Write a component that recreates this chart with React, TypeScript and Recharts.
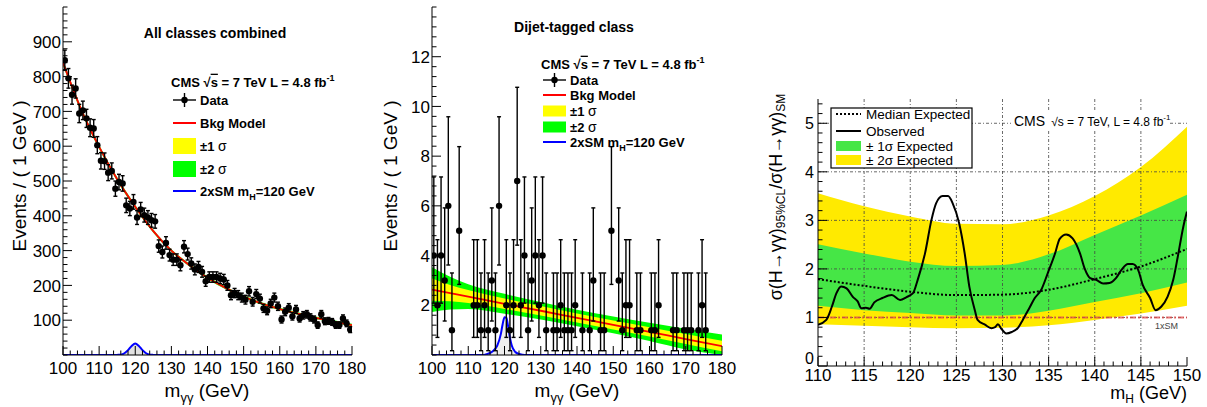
import React from "react";
import {
  ComposedChart,
  Line,
  Area,
  Scatter,
  ErrorBar,
  XAxis,
  YAxis,
  ReferenceLine,
} from "recharts";

const FONT = '"Liberation Sans", Arial, Helvetica, sans-serif';

// ---------- all classes combined (1 GeV bins, 100-180 GeV) ----------
const combinedFirstBin = 100.5;
const combinedCounts = [
  847, 795, 748, 766, 694, 703, 680, 653, 651, 603,
  558, 557, 524, 529, 478, 497, 493, 430, 421, 440,
  395, 418, 402, 395, 387, 384, 313, 296, 322, 287,
  274, 274, 258, 311, 290, 263, 246, 253, 239, 212,
  224, 224, 224, 220, 217, 200, 172, 178, 172, 165,
  159, 183, 153, 175, 162, 134, 127, 148, 165, 140,
  102, 124, 136, 111, 131, 105, 114, 117, 108, 102,
  86, 117, 97, 98, 95, 86, 86, 105, 91, 73,
];
const combinedBkgMass = [100, 105, 110, 115, 120, 125, 130, 135, 140, 145, 150, 155, 160, 165, 170, 175, 180];
const combinedBkg = [840, 706, 598, 505, 426, 356, 300, 258, 222, 193, 168, 148, 132, 119, 107, 96, 86];
const combinedBand1 = [4, 3.5, 3, 3, 2.5, 2.5, 2, 2, 2, 2, 2, 2, 2, 2, 2, 2, 2];
const combinedBand2 = [8, 7, 6, 5.5, 5, 4.5, 4, 4, 4, 4, 3.5, 3.5, 3.5, 3.5, 3.5, 3.5, 4];
const combinedSigMass = [100, 114, 115, 116, 117, 118, 119, 120, 121, 122, 123, 124, 125, 126, 180];
const combinedSig = [0, 0, 0.3, 1, 5, 14, 26, 33, 26, 14, 5, 1, 0.3, 0, 0];

// ---------- dijet-tagged class ----------
const dijetMass = [
  100.5, 101.5, 102.5, 103.5, 104.5, 105.5, 107.5, 111.5, 112.5, 113.5,
  114.5, 115.5, 116.5, 117.5, 118.5, 120.5, 121.5, 122.5, 123.5, 124.5,
  125.5, 126.5, 127.5, 128.5, 129.5, 130.5, 131.5, 133.5, 134.5, 135.5,
  136.5, 137.5, 138.5, 139.5, 141.5, 143.5, 144.5, 146.5, 147.5, 149.5,
  151.5, 152.5, 153.5, 154.5, 156.5, 157.5, 160.5, 161.5, 162.5, 166.5,
  167.5, 169.5, 170.5, 171.5, 173.5, 174.5, 175.5,
];
const dijetCounts = [
  4, 2, 4, 3, 6, 1, 5, 2, 2, 1,
  2, 1, 3, 1, 6, 2, 1, 2, 7, 2,
  4, 1, 3, 4, 2, 4, 1, 1, 1, 2,
  1, 1, 1, 2, 1, 1, 3, 1, 1, 5,
  3, 1, 2, 2, 1, 1, 1, 1, 2, 1,
  1, 1, 1, 1, 1, 2, 1,
];
// 68% Poisson intervals indexed by observed count
const poissonLo = [0, 0.173, 0.708, 1.367, 2.086, 2.84, 3.62, 4.419];
const poissonHi = [1.841, 3.3, 4.638, 5.918, 7.163, 8.382, 9.584, 10.77];
const dijetBkgMass = [100, 105, 110, 120, 130, 140, 150, 160, 170, 180];
const dijetBkg = [2.63, 2.49, 2.35, 2.06, 1.78, 1.49, 1.21, 0.93, 0.64, 0.36];
const dijetBand1 = [0.45, 0.33, 0.26, 0.21, 0.19, 0.18, 0.18, 0.19, 0.2, 0.21];
const dijetBand2 = [0.9, 0.66, 0.5, 0.4, 0.35, 0.33, 0.34, 0.37, 0.42, 0.46];
const dijetSigMass = [100, 114, 115, 116, 117, 118, 119, 119.5, 120, 120.5, 121, 121.5, 122, 123, 124, 125, 126, 180];
const dijetSig = [0, 0, 0.03, 0.08, 0.18, 0.38, 0.85, 1.25, 1.52, 1.5, 1.15, 0.7, 0.38, 0.12, 0.04, 0.01, 0, 0];

// ---------- 95% CL limit ----------
const limitMass = [110, 115, 120, 125, 130, 135, 140, 145, 150];
const limitMedian = [1.79, 1.65, 1.53, 1.46, 1.47, 1.57, 1.79, 2.05, 2.41];
const limit1Lo = [1.24, 1.15, 1.09, 1.04, 1.04, 1.14, 1.32, 1.5, 1.72];
const limit1Hi = [2.51, 2.32, 2.15, 2.06, 2.08, 2.3, 2.7, 3.1, 3.53];
const limit2Lo = [0.86, 0.83, 0.8, 0.78, 0.79, 0.84, 0.95, 1.08, 1.24];
const limit2Hi = [3.56, 3.29, 3.08, 2.93, 2.92, 3.1, 3.5, 4.1, 4.93];
const obsMass = [
  110, 110.9, 111.5, 112, 112.5, 113.1, 113.8, 114.3, 114.7, 115.2,
  115.6, 116.1, 117, 118, 118.9, 119.6, 120.3, 120.8, 121.6, 122.3,
  122.8, 123.5, 124.1, 124.6, 125.3, 125.9, 126.4, 127, 127.3, 128.1,
  128.8, 129.2, 129.5, 129.9, 130.4, 131, 131.7, 132.2, 132.9, 133.5,
  134.2, 134.9, 135.7, 136.2, 136.9, 137.6, 138.4, 138.9, 139.5, 140.2,
  140.9, 141.6, 142.3, 142.9, 143.6, 144.1, 144.7, 145.2, 146, 146.6,
  147.2, 147.9, 148.5, 149, 149.6, 150,
];
const obsLimit = [
  0.85, 0.95, 1.22, 1.5, 1.64, 1.6, 1.42, 1.33, 1.19, 1.2,
  1.18, 1.31, 1.4, 1.46, 1.36, 1.42, 1.5, 1.77, 2.32, 3.01,
  3.35, 3.5, 3.5, 3.35, 2.94, 2.32, 1.64, 1.15, 0.95, 0.85,
  0.78, 0.8, 0.86, 0.76, 0.67, 0.7, 0.79, 0.95, 1.19, 1.4,
  1.57, 1.91, 2.32, 2.62, 2.71, 2.63, 2.32, 2.01, 1.81, 1.77,
  1.7, 1.71, 1.81, 1.98, 2.1, 2.1, 1.98, 1.67, 1.4, 1.15,
  1.22, 1.43, 1.77, 2.25, 2.87, 3.18,
];

// ---------- axis ticks ----------
const massTicks = [100, 110, 120, 130, 140, 150, 160, 170, 180];
const combinedYTicks = [100, 200, 300, 400, 500, 600, 700, 800, 900];
const dijetYTicks = [2, 4, 6, 8, 10, 12];
const limitXTicks = [110, 115, 120, 125, 130, 135, 140, 145, 150];
const limitYTicks = [0, 1, 2, 3, 4, 5];
const limitGridX = [115, 120, 125, 130, 135, 140, 145];
const limitGridY = [1, 2, 3, 4, 5];

const steps = (a: number, b: number, s: number) => {
  const out: number[] = [];
  for (let v = a; v <= b + 1e-9; v += s) out.push(Math.round(v * 1000) / 1000);
  return out;
};

// ---------- tables ----------
const combinedPoints = combinedCounts.map((n, i) => ({
  x: combinedFirstBin + i,
  y: n,
  err: Math.sqrt(n),
}));
const combinedBkgRows = combinedBkgMass.map((x, i) => ({
  x,
  bkg: combinedBkg[i],
  s1: [combinedBkg[i] - combinedBand1[i], combinedBkg[i] + combinedBand1[i]],
  s2: [combinedBkg[i] - combinedBand2[i], combinedBkg[i] + combinedBand2[i]],
}));
const combinedSigRows = combinedSigMass.map((x, i) => ({ x, sig: combinedSig[i] }));

const dijetPoints = dijetMass.map((x, i) => {
  const n = dijetCounts[i];
  return { x, y: n, err: [n - poissonLo[n], poissonHi[n] - n] };
});
const dijetBkgRows = dijetBkgMass.map((x, i) => ({
  x,
  bkg: dijetBkg[i],
  s1: [dijetBkg[i] - dijetBand1[i], dijetBkg[i] + dijetBand1[i]],
  s2: [Math.max(0, dijetBkg[i] - dijetBand2[i]), dijetBkg[i] + dijetBand2[i]],
}));
const dijetSigRows = dijetSigMass.map((x, i) => ({ x, sig: dijetSig[i] }));

const limitRows = limitMass.map((x, i) => ({
  x,
  median: limitMedian[i],
  s1: [limit1Lo[i], limit1Hi[i]],
  s2: [limit2Lo[i], limit2Hi[i]],
}));
const obsRows = obsMass.map((x, i) => ({ x, obs: obsLimit[i] }));

// ---------- ROOT-style frame: ticks drawn inward on all four sides ----------
type Side = "left" | "right" | "top" | "bottom";
type TickOpts = {
  side: Side;
  majors: number[];
  major: number;
  minor: number;
  label?: boolean;
  fontSize?: number;
  gap?: number;
  zeroLift?: number; // raises the label sitting in the frame corner
};
const isIn = (v: number, list: number[]) => list.some((m) => Math.abs(m - v) < 1e-6);

function frameTick(o: TickOpts) {
  return (p: any) => {
    const v = p.payload.value as number;
    const big = isIn(v, o.majors);
    const len = big ? o.major : o.minor;
    const { x, y } = p;
    let l = { x1: x, y1: y, x2: x, y2: y };
    if (o.side === "bottom") l.y2 = y - len;
    else if (o.side === "top") l.y2 = y + len;
    else if (o.side === "left") l.x2 = x + len;
    else l.x2 = x - len;
    const fs = o.fontSize ?? 17;
    const gap = o.gap ?? 4;
    let txt: React.ReactNode = null;
    if (o.label && big) {
      const lift = v === 0 ? o.zeroLift ?? 0 : 0;
      txt =
        o.side === "bottom" ? (
          <text x={x} y={y + gap} textAnchor="middle" fontSize={fs} fontFamily={FONT} fill="#000">
            {v}
          </text>
        ) : (
          <text x={x - gap} y={y - lift} dy="0.36em" textAnchor="end" fontSize={fs} fontFamily={FONT} fill="#000">
            {v}
          </text>
        );
    }
    return (
      <g>
        <line {...l} stroke="#000" strokeWidth={1} />
        {txt}
      </g>
    );
  };
}

type FrameCfg = {
  xDomain: [number, number];
  yDomain: [number, number];
  xMajors: number[];
  yMajors: number[];
  xMinor: number;
  yMinor: number;
  xLen: [number, number];
  yLen: [number, number];
  xFont: number;
  yFont: number;
  xGap: number;
  yGap: number;
  yWidth: number;
  zeroLift?: number;
};

function frameAxes(c: FrameCfg) {
  const xAll = steps(c.xDomain[0], c.xDomain[1], c.xMinor);
  const yAll = steps(c.yDomain[0], c.yDomain[1], c.yMinor);
  const common = {
    type: "number" as const,
    allowDataOverflow: true,
    interval: 0 as const,
    tickSize: 0,
    tickMargin: 0,
    tickLine: false,
    axisLine: { stroke: "#000", strokeWidth: 1 },
  };
  return [
    <XAxis
      key="xb"
      {...common}
      xAxisId={0}
      dataKey="x"
      domain={c.xDomain}
      ticks={xAll}
      height={30}
      tick={frameTick({ side: "bottom", majors: c.xMajors, major: c.xLen[0], minor: c.xLen[1], label: true, fontSize: c.xFont, gap: c.xGap })}
    />,
    <XAxis
      key="xt"
      {...common}
      xAxisId="top"
      orientation="top"
      domain={c.xDomain}
      ticks={xAll}
      height={0}
      tick={frameTick({ side: "top", majors: c.xMajors, major: c.xLen[0], minor: c.xLen[1] })}
    />,
    <YAxis
      key="yl"
      {...common}
      yAxisId={0}
      domain={c.yDomain}
      ticks={yAll}
      width={c.yWidth}
      tick={frameTick({
        side: "left",
        majors: c.yMajors,
        major: c.yLen[0],
        minor: c.yLen[1],
        label: true,
        fontSize: c.yFont,
        gap: c.yGap,
        zeroLift: c.zeroLift,
      })}
    />,
    <YAxis
      key="yr"
      {...common}
      yAxisId="right"
      orientation="right"
      domain={c.yDomain}
      ticks={yAll}
      width={0}
      tick={frameTick({ side: "right", majors: c.yMajors, major: c.yLen[0], minor: c.yLen[1] })}
    />,
  ];
}

const dataDot = (p: any) => <circle cx={p.cx} cy={p.cy} r={3.2} fill="#000" />;

function CombinedPanel() {
  return (
    <ComposedChart width={400} height={407} margin={{ top: 7, right: 48, bottom: 22, left: 13 }}>
      {frameAxes({
        xDomain: [100, 180],
        yDomain: [0, 1000],
        xMajors: massTicks,
        yMajors: combinedYTicks,
        xMinor: 2,
        yMinor: 20,
        xLen: [9, 4.5],
        yLen: [9, 4.5],
        xFont: 17,
        yFont: 17,
        xGap: 19,
        yGap: 2,
        yWidth: 50,
      })}
      <Area data={combinedBkgRows} dataKey="s2" type="monotone" stroke="none" fill="#00ff00" fillOpacity={1} isAnimationActive={false} />
      <Area data={combinedBkgRows} dataKey="s1" type="monotone" stroke="none" fill="#ffff00" fillOpacity={1} isAnimationActive={false} />
      <Line data={combinedBkgRows} dataKey="bkg" type="monotone" stroke="#ff0000" strokeWidth={1.8} dot={false} activeDot={false} isAnimationActive={false} />
      <Area data={combinedSigRows} dataKey="sig" type="monotone" stroke="#0000ff" strokeWidth={2} fill="#e2e2e2" fillOpacity={1} isAnimationActive={false} />
      <Scatter data={combinedPoints} dataKey="y" shape={dataDot} isAnimationActive={false}>
        <ErrorBar dataKey="err" direction="y" width={2} stroke="#000" strokeWidth={1.4} isAnimationActive={false} />
      </Scatter>
    </ComposedChart>
  );
}

function DijetPanel() {
  return (
    <ComposedChart width={360} height={407} margin={{ top: 7, right: 18, bottom: 22, left: 12 }}>
      {frameAxes({
        xDomain: [100, 180],
        yDomain: [0, 14],
        xMajors: massTicks,
        yMajors: dijetYTicks,
        xMinor: 2,
        yMinor: 0.4,
        xLen: [9, 4.5],
        yLen: [9, 4.5],
        xFont: 17,
        yFont: 17,
        xGap: 19,
        yGap: 2,
        yWidth: 40,
      })}
      <Area data={dijetBkgRows} dataKey="s2" type="monotone" stroke="none" fill="#00ff00" fillOpacity={1} isAnimationActive={false} />
      <Area data={dijetBkgRows} dataKey="s1" type="monotone" stroke="none" fill="#ffff00" fillOpacity={1} isAnimationActive={false} />
      <Line data={dijetBkgRows} dataKey="bkg" type="monotone" stroke="#ff0000" strokeWidth={1.8} dot={false} activeDot={false} isAnimationActive={false} />
      <Area data={dijetSigRows} dataKey="sig" type="monotone" stroke="#0000ff" strokeWidth={2} fill="#eeeeee" fillOpacity={1} isAnimationActive={false} />
      <Scatter data={dijetPoints} dataKey="y" shape={dataDot} isAnimationActive={false}>
        <ErrorBar dataKey="err" direction="y" width={2} stroke="#000" strokeWidth={1.4} isAnimationActive={false} />
      </Scatter>
    </ComposedChart>
  );
}

function LimitPanel() {
  return (
    <ComposedChart width={427} height={407} margin={{ top: 99, right: 20, bottom: 11, left: 8 }}>
      {frameAxes({
        xDomain: [110, 150],
        yDomain: [0, 5.5],
        xMajors: limitXTicks,
        yMajors: limitYTicks,
        xMinor: 1,
        yMinor: 0.2,
        xLen: [9, 4.5],
        yLen: [9, 4.5],
        xFont: 17,
        yFont: 16,
        xGap: 15,
        yGap: 4,
        yWidth: 30,
        zeroLift: 8,
      })}
      <Area data={limitRows} dataKey="s2" type="monotone" stroke="none" fill="#ffea00" fillOpacity={1} isAnimationActive={false} />
      <Area data={limitRows} dataKey="s1" type="monotone" stroke="none" fill="#46e646" fillOpacity={1} isAnimationActive={false} />
      {limitGridX.map((v) => (
        <ReferenceLine key={"gx" + v} x={v} stroke="#444" strokeWidth={0.8} strokeDasharray="3 2 1 2" />
      ))}
      {limitGridY.map((v) => (
        <ReferenceLine key={"gy" + v} y={v} stroke="#444" strokeWidth={0.8} strokeDasharray="3 2 1 2" />
      ))}
      <ReferenceLine y={1} stroke="#e04848" strokeOpacity={0.75} strokeWidth={2} strokeDasharray="6 2 2 2" />
      <Line data={limitRows} dataKey="median" type="monotone" stroke="#000" strokeWidth={2} strokeDasharray="2 2" dot={false} activeDot={false} isAnimationActive={false} />
      <Line data={obsRows} dataKey="obs" type="monotone" stroke="#000" strokeWidth={2} dot={false} activeDot={false} isAnimationActive={false} />
    </ComposedChart>
  );
}

// ---------- legends and titles ----------
function HistLegend({ x, tx, rows, cms, box }: { x: number; tx: number; rows: number[]; cms: number; box: number }) {
  const w = 23;
  const t = { fontFamily: FONT, fontSize: 13, fontWeight: 700 as const };
  const base = (cy: number) => cy + 4.7;
  return (
    <g>
      <text x={x - 2} y={base(cms)} {...t}>
        CMS <tspan>√</tspan>
        <tspan textDecoration="overline">s</tspan> = 7 TeV L = 4.8 fb
        <tspan fontSize={9} dy={-6}>-1</tspan>
      </text>
      <line x1={x} x2={x + w} y1={rows[0]} y2={rows[0]} stroke="#000" strokeWidth={1.4} />
      <line x1={x + w / 2} x2={x + w / 2} y1={rows[0] - 7} y2={rows[0] + 7} stroke="#000" strokeWidth={1.4} />
      <circle cx={x + w / 2} cy={rows[0]} r={3.2} fill="#000" />
      <text x={tx} y={base(rows[0])} {...t}>Data</text>
      <line x1={x} x2={x + w} y1={rows[1]} y2={rows[1]} stroke="#ff0000" strokeWidth={2} />
      <text x={tx} y={base(rows[1])} {...t}>Bkg Model</text>
      <rect x={x} y={rows[2] - box / 2} width={w} height={box} fill="#ffff00" />
      <text x={tx} y={base(rows[2])} {...t}>
        ±1 <tspan fontWeight={400} fontSize={14}>σ</tspan>
      </text>
      <rect x={x} y={rows[3] - box / 2} width={w} height={box} fill="#00ff00" />
      <text x={tx} y={base(rows[3])} {...t}>
        ±2 <tspan fontWeight={400} fontSize={14}>σ</tspan>
      </text>
      <line x1={x} x2={x + w} y1={rows[4]} y2={rows[4]} stroke="#0000ff" strokeWidth={2} />
      <text x={tx} y={base(rows[4])} {...t}>
        2xSM m<tspan fontSize={9} dy={4}>H</tspan>
        <tspan dy={-4}>=120 GeV</tspan>
      </text>
    </g>
  );
}

function Overlay() {
  const title = { fontFamily: FONT, fontSize: 19, fill: "#000" };
  const leg = { fontFamily: FONT, fontSize: 13.5, fill: "#000" };
  return (
    <svg width={1207} height={407} style={{ position: "absolute", left: 0, top: 0, pointerEvents: "none" }}>
      {/* panel headings */}
      <text x={215} y={38} textAnchor="middle" fontFamily={FONT} fontSize={14} fontWeight={700}>
        All classes combined
      </text>
      <text x={574} y={32} textAnchor="middle" fontFamily={FONT} fontSize={14} fontWeight={700}>
        Dijet-tagged class
      </text>

      <HistLegend x={173} tx={200} cms={82} rows={[100, 123, 146, 169, 191]} box={16} />
      <HistLegend x={543} tx={570} cms={64} rows={[80, 95, 111, 127, 142]} box={11} />

      {/* axis titles */}
      <text transform="translate(19,176) rotate(-90)" textAnchor="middle" dominantBaseline="central" {...title}>
        Events / ( 1 GeV )
      </text>
      <text transform="translate(390,176) rotate(-90)" textAnchor="middle" dominantBaseline="central" {...title}>
        Events / ( 1 GeV )
      </text>
      <text x={207} y={397} textAnchor="middle" {...title}>
        m<tspan fontSize={13} dy={5}>γγ</tspan>
        <tspan dy={-5}> (GeV)</tspan>
      </text>
      <text x={577} y={397} textAnchor="middle" {...title}>
        m<tspan fontSize={13} dy={5}>γγ</tspan>
        <tspan dy={-5}> (GeV)</tspan>
      </text>
      <text x={1187} y={399} textAnchor="end" fontFamily={FONT} fontSize={18}>
        m<tspan fontSize={12} dy={4}>H</tspan>
        <tspan dy={-4}> (GeV)</tspan>
      </text>
      <text transform="translate(776,197) rotate(-90)" textAnchor="middle" dominantBaseline="central" fontFamily={FONT} fontSize={18}>
        σ(H→γγ)<tspan fontSize={12} dy={5}>95%CL</tspan>
        <tspan dy={-5}>/σ(H→γγ)</tspan>
        <tspan fontSize={12} dy={5}>SM</tspan>
      </text>

      {/* limit legend */}
      <rect x={831} y={108} width={141} height={60} fill="#fff" stroke="#000" strokeWidth={1.2} />
      <line x1={836} x2={861} y1={114} y2={114} stroke="#000" strokeWidth={2} strokeDasharray="2 2" />
      <text x={866} y={119} {...leg}>Median Expected</text>
      <line x1={836} x2={861} y1={131} y2={131} stroke="#000" strokeWidth={2} />
      <text x={866} y={136} {...leg}>Observed</text>
      <rect x={836} y={141} width={25} height={10} fill="#46e646" />
      <text x={866} y={150.5} {...leg}>± 1σ Expected</text>
      <rect x={836} y={155} width={25} height={10} fill="#ffea00" />
      <text x={866} y={165} {...leg}>± 2σ Expected</text>

      <rect x={1011} y={112} width={158} height={19} fill="#fff" />
      <text x={1014} y={126} fontFamily={FONT} fontSize={14}>
        CMS
        <tspan fontSize={12} dx={6}>√</tspan>
        <tspan fontSize={12}>s = 7 TeV, L = 4.8 fb</tspan>
        <tspan fontSize={8} dy={-6}>-1</tspan>
      </text>
      <text x={1155} y={329} fontFamily={FONT} fontSize={9} fill="#444">1xSM</text>
    </svg>
  );
}

export default function App() {
  return (
    <div style={{ position: "absolute", left: 0, top: 0, width: 1207, height: 407, background: "#fff", fontFamily: FONT }}>
      <div style={{ position: "absolute", left: 0, top: 0 }}>
        <CombinedPanel />
      </div>
      <div style={{ position: "absolute", left: 380, top: 0 }}>
        <DijetPanel />
      </div>
      <div style={{ position: "absolute", left: 780, top: 0 }}>
        <LimitPanel />
      </div>
      <Overlay />
    </div>
  );
}
